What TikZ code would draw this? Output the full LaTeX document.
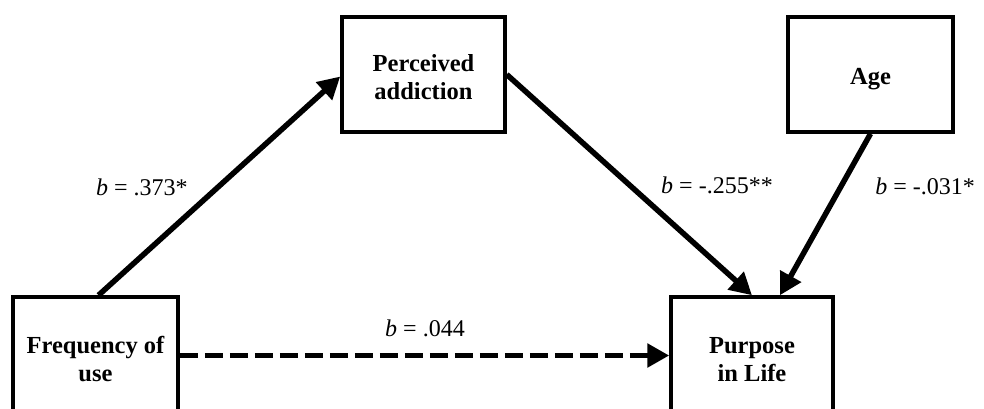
\documentclass[tikz,border=0pt]{standalone}
\usepackage{fontspec}
\setmainfont{Liberation Serif}
\usetikzlibrary{arrows.meta}
\begin{document}
\begin{tikzpicture}[x=1pt,y=1pt,
  varbox/.style={draw,line width=3.5pt,minimum width=#1,minimum height=115pt,inner sep=0pt},
  boxtext/.style={font=\fontsize{24.5}{28}\selectfont\bfseries,align=center,inner sep=0pt},
  coef/.style={font=\fontsize{24}{28}\selectfont,inner sep=0pt},
  path/.style={line width=5.5pt,-{Triangle[length=22pt,width=23pt]}},
  dpath/.style={path,dash pattern=on 18pt off 7pt}]
\useasboundingbox (0,0) rectangle (984,408);
\node[varbox=165pt] (freq) at (95.5,53.5) {};
\node[varbox=163pt] (perc) at (423.5,333.5) {};
\node[varbox=165pt] (age) at (870.5,333.5) {};
\node[varbox=162pt] (purp) at (752,53.5) {};
\node[boxtext] (freqt) at ([yshift=-5pt]freq.center) {Frequency of\\use};
\node[boxtext] (perct) at ([yshift=-3pt]perc.center) {Perceived\\addiction};
\node[boxtext] (aget) at ([yshift=-5pt]age.center) {Age};
\node[boxtext] (purpt) at ([yshift=-5pt]purp.center) {Purpose\\in Life};
\draw[path] ([xshift=3pt]freq.north) -- ([yshift=-2pt]perc.west);
\draw[path] (perc.east) -- (purp.north);
\draw[path] (age.south) -- ([xshift=28pt]purp.north);
\draw[dpath] ([yshift=-1pt]freq.east) -- ([yshift=-1pt]purp.west);
\node[coef] (l1) at (142,221) {\textit{b} = .373*};
\node[coef] (l2) at (717,223) {\textit{b} = -.255**};
\node[coef] (l3) at (925,222) {\textit{b} = -.031*};
\node[coef] (l4) at (425,80) {\textit{b} = .044};
\end{tikzpicture}
\end{document}
